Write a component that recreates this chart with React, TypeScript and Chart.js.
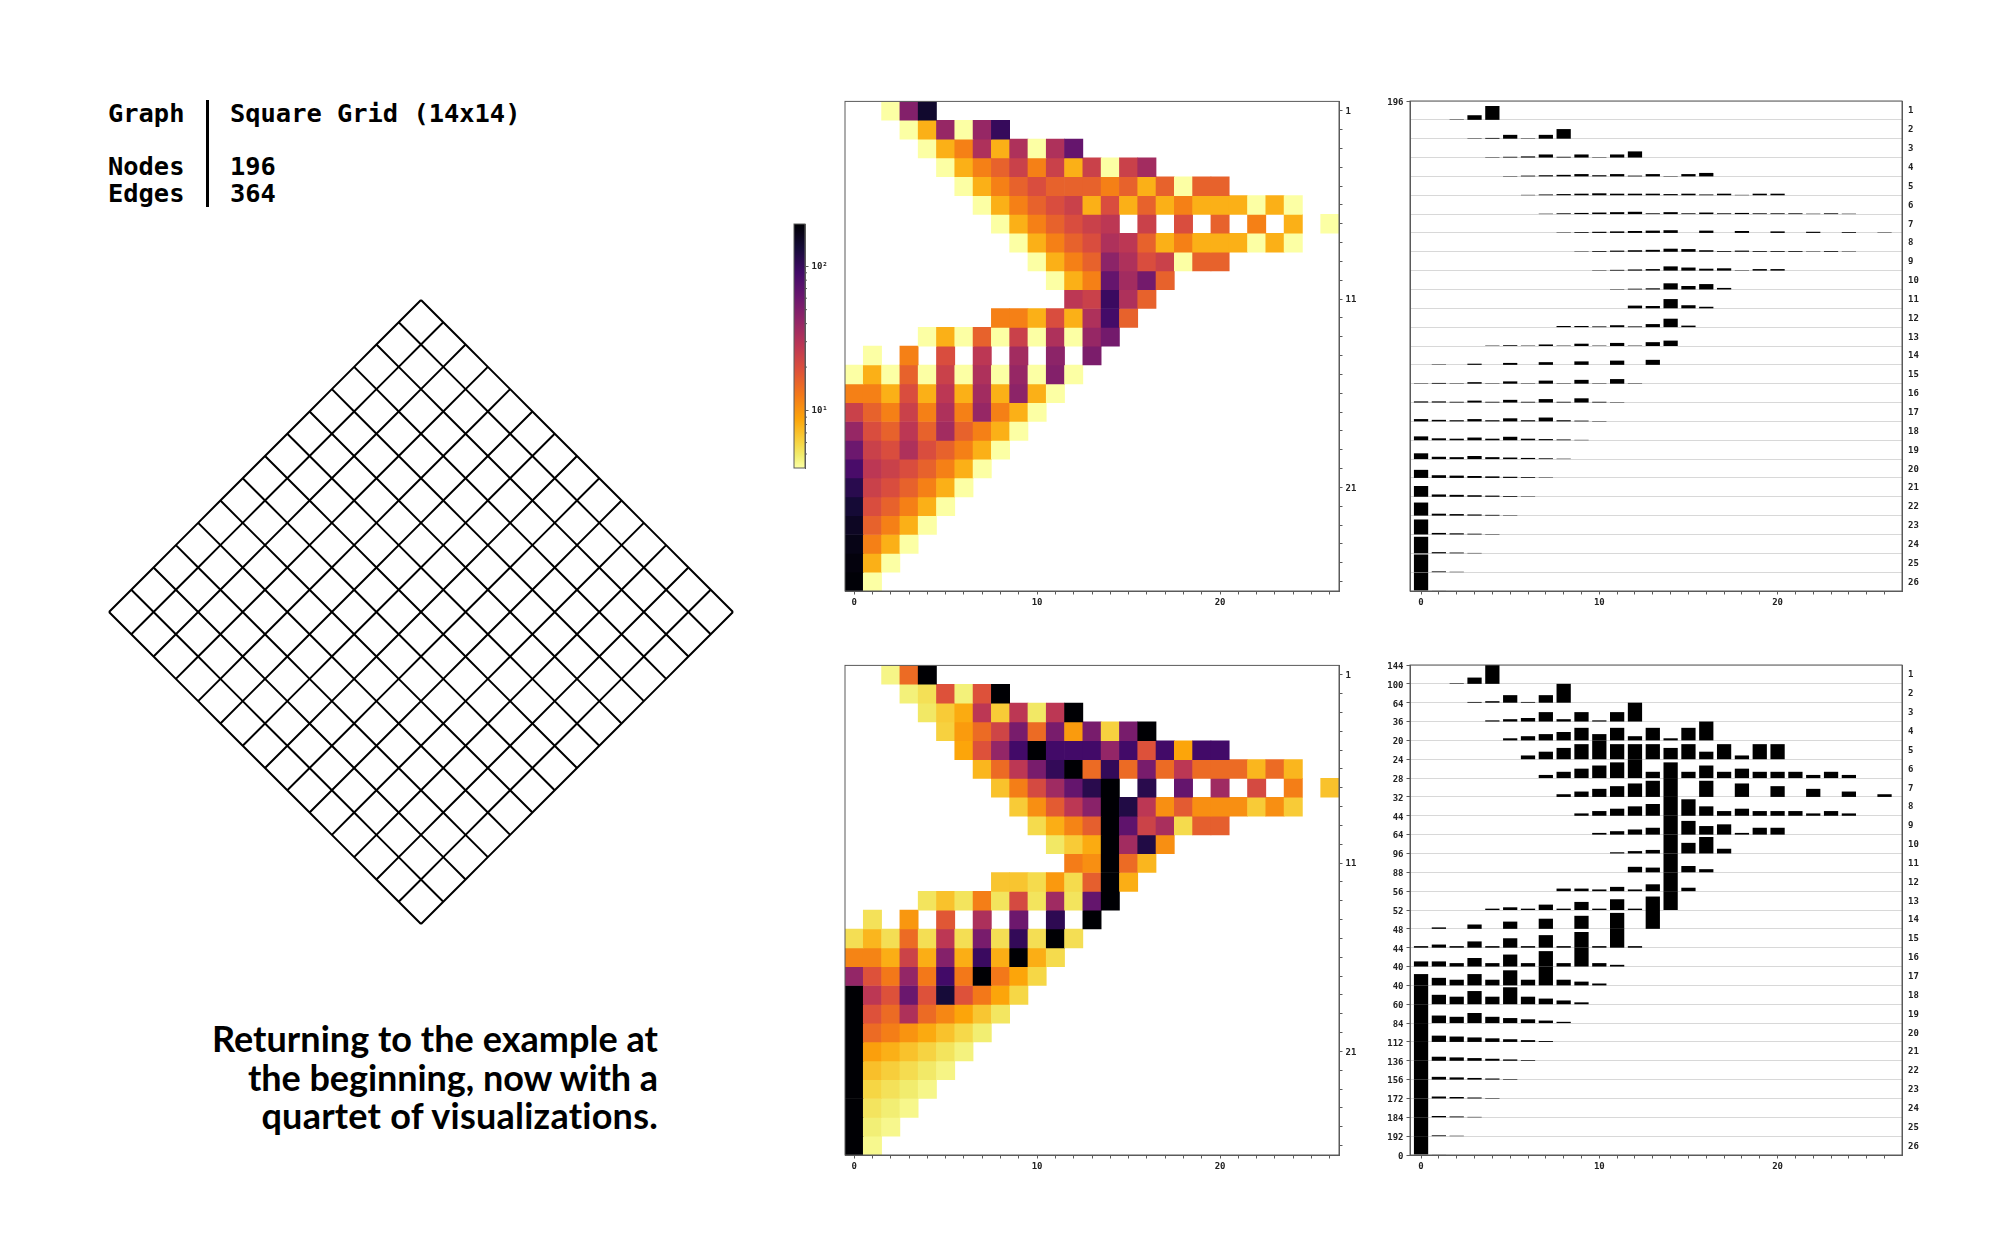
import React, { useEffect, useRef } from "react";
import { Chart, registerables } from "chart.js";

Chart.register(...registerables);

// ---- data: one list per row of the level matrix (row 1 .. row 26, column 0 upward) ----
const row01 = [0, 0, 4, 48, 144];
const row02 = [0, 0, 0, 4, 8, 40, 4, 40, 100];
const row03 = [0, 0, 0, 0, 4, 8, 12, 32, 8, 32, 4, 32, 64];
const row04 = [0, 0, 0, 0, 0, 4, 8, 12, 16, 24, 12, 24, 8, 24, 4, 24, 36];
const row05 = [0, 0, 0, 0, 0, 0, 4, 8, 12, 16, 20, 16, 16, 16, 12, 16, 8, 16, 4, 16, 16];
const row06 = [0, 0, 0, 0, 0, 0, 0, 4, 8, 12, 16, 20, 24, 8, 20, 8, 16, 8, 12, 8, 8, 8, 4, 8, 4];
const row07 = [0, 0, 0, 0, 0, 0, 0, 0, 4, 8, 12, 16, 20, 24, 28, 0, 24, 0, 20, 0, 16, 0, 12, 0, 8, 0, 4];
const row08 = [0, 0, 0, 0, 0, 0, 0, 0, 0, 4, 8, 12, 16, 20, 32, 28, 16, 8, 12, 8, 8, 8, 4, 8, 4];
const row09 = [0, 0, 0, 0, 0, 0, 0, 0, 0, 0, 4, 8, 12, 16, 44, 32, 20, 24, 4, 16, 16];
const row10 = [0, 0, 0, 0, 0, 0, 0, 0, 0, 0, 0, 4, 8, 12, 64, 36, 56, 16];
const row11 = [0, 0, 0, 0, 0, 0, 0, 0, 0, 0, 0, 0, 28, 24, 96, 32, 16];
const row12 = [0, 0, 0, 0, 0, 0, 0, 0, 12, 12, 8, 20, 8, 32, 88, 16];
const row13 = [0, 0, 0, 0, 4, 8, 4, 16, 4, 24, 4, 32, 4, 40, 56];
const row14 = [0, 4, 0, 12, 0, 20, 0, 28, 0, 36, 0, 44, 0, 52];
const row15 = [4, 8, 4, 16, 4, 24, 4, 32, 4, 40, 4, 48, 4];
const row16 = [12, 12, 8, 20, 8, 28, 8, 36, 8, 44, 8, 4];
const row17 = [24, 16, 12, 24, 12, 32, 12, 40, 12, 8, 4];
const row18 = [40, 20, 16, 28, 16, 36, 16, 12, 8, 4];
const row19 = [60, 24, 20, 32, 20, 16, 12, 8, 4];
const row20 = [84, 28, 24, 20, 16, 12, 8, 4];
const row21 = [112, 24, 20, 16, 12, 8, 4];
const row22 = [136, 20, 16, 12, 8, 4];
const row23 = [156, 16, 12, 8, 4];
const row24 = [172, 12, 8, 4];
const row25 = [184, 8, 4];
const row26 = [192, 4];
const levelRows = [
  row01, row02, row03, row04, row05, row06, row07, row08, row09, row10, row11, row12, row13,
  row14, row15, row16, row17, row18, row19, row20, row21, row22, row23, row24, row25, row26,
];

// tick labels
const rowMaxLabels = [144, 100, 64, 36, 20, 24, 28, 32, 44, 64, 96, 88, 56, 52, 48, 44, 40, 40, 60, 84, 112, 136, 156, 172, 184, 192];
const rowNumbers = levelRows.map((_, r) => r + 1);
const columnNumbers = Array.from({ length: 27 }, (_, c) => c);
const heatRowLabels = [1, 11, 21];
const columnLabels = [0, 10, 20];
const colorMin = 4;
const colorMax = 196;
const colorbarMajor = [10, 100];
const colorbarLabels = ["10\u00B9", "10\u00B2"];
const colorbarMinor = [5, 6, 7, 8, 9, 20, 30, 40, 50, 60, 70, 80, 90];
const gridNodes = Array.from({ length: 15 }, (_, i) => i);

const infernoStops = [0, 0.1, 0.2, 0.3, 0.4, 0.5, 0.6, 0.7, 0.8, 0.9, 0.95, 1];
const inferno = ["#000004", "#160b39", "#420a68", "#6a176e", "#932667", "#bc3754", "#dd513a", "#f37819", "#fca50a", "#f6d746", "#f1ed6f", "#fcffa4"];
const FRAME = "#5a5a5a";
const TICK_FONT = { family: "'DejaVu Sans Mono'", size: 9, weight: "bold" as const };
const TICK_COLOR = "#222";

function hex(c: string) {
  return [1, 3, 5].map((i) => parseInt(c.slice(i, i + 2), 16));
}
function infernoAt(t: number) {
  const u = Math.min(1, Math.max(0, t));
  let i = 0;
  while (i < infernoStops.length - 2 && u > infernoStops[i + 1]) i++;
  const a = hex(inferno[i]);
  const b = hex(inferno[i + 1]);
  const f = (u - infernoStops[i]) / (infernoStops[i + 1] - infernoStops[i]);
  return `rgb(${a.map((v, k) => Math.round(v + (b[k] - v) * f)).join(",")})`;
}
const logColor = (v: number) => infernoAt(1 - Math.log(v / colorMin) / Math.log(colorMax / colorMin));
const linearColor = (v: number, rowMax: number) => infernoAt(1 - v / rowMax);

const framePlugin = {
  id: "frame",
  afterDraw(chart: any) {
    const { ctx, chartArea: a } = chart;
    ctx.save();
    ctx.strokeStyle = FRAME;
    ctx.lineWidth = 1;
    ctx.strokeRect(a.left, a.top, a.right - a.left, a.bottom - a.top);
    ctx.restore();
  },
};

function columnAxis(min: number, max: number) {
  return {
    type: "linear",
    min,
    max,
    offset: false,
    afterBuildTicks: (axis: any) => {
      axis.ticks = columnNumbers.map((value) => ({ value }));
    },
    afterFit: (axis: any) => {
      axis.height = 20;
    },
    grid: { offset: false, drawOnChartArea: false, tickLength: 3.5, tickColor: FRAME },
    border: { color: FRAME },
    ticks: {
      autoSkip: false,
      maxRotation: 0,
      minRotation: 0,
      padding: 3,
      font: TICK_FONT,
      color: TICK_COLOR,
      callback: (v: number) => (columnLabels.includes(v) ? String(v) : ""),
    },
  };
}

function heatConfig(colorOf: (v: number, r: number) => string) {
  return {
    type: "bar",
    data: {
      datasets: levelRows.map((row, r) => {
        const cells = row.map((v, c) => ({ v, c })).filter((d) => d.v > 0);
        return {
          data: cells.map((d) => ({ x: d.c, y: [r - 0.5, r + 0.5] })),
          backgroundColor: cells.map((d) => colorOf(d.v, r)),
        };
      }),
    },
    options: {
      responsive: false,
      animation: false,
      devicePixelRatio: 1,
      layout: { padding: { left: 8, top: 8, right: 0, bottom: 0 } },
      plugins: { legend: { display: false }, tooltip: { enabled: false } },
      datasets: { bar: { grouped: false, barPercentage: 1, categoryPercentage: 1, borderWidth: 0 } },
      scales: {
        x: columnAxis(-0.5, 26.5),
        y: {
          type: "linear",
          position: "right",
          reverse: true,
          min: -0.5,
          max: 25.5,
          afterBuildTicks: (axis: any) => {
            axis.ticks = rowNumbers.map((n) => ({ value: n - 1 }));
          },
          afterFit: (axis: any) => {
            axis.width = 30;
          },
          grid: { drawOnChartArea: false, tickLength: 3.5, tickColor: FRAME },
          border: { color: FRAME },
          ticks: {
            autoSkip: false,
            padding: 3,
            labelOffset: 1,
            font: TICK_FONT,
            color: TICK_COLOR,
            callback: (v: number) => (heatRowLabels.includes(v + 1) ? String(v + 1) : ""),
          },
        },
      },
    },
    plugins: [framePlugin],
  };
}

function barsConfig(normOf: (r: number) => number, labelAt: (v: number) => string) {
  return {
    type: "bar",
    data: {
      datasets: levelRows.map((row, r) => {
        const base = levelRows.length - 1 - r;
        const cells = row.map((v, c) => ({ v, c })).filter((d) => d.v > 0);
        return {
          data: cells.map((d) => ({ x: d.c, y: [base, base + d.v / normOf(r)] })),
          backgroundColor: "#000",
          xAxisID: "x",
          yAxisID: "y",
        };
      }),
    },
    options: {
      responsive: false,
      animation: false,
      devicePixelRatio: 1,
      layout: { padding: { left: 0, top: 14, right: 0, bottom: 0 } },
      plugins: { legend: { display: false }, tooltip: { enabled: false } },
      datasets: { bar: { grouped: false, barPercentage: 0.8, categoryPercentage: 1, borderWidth: 0 } },
      scales: {
        x: columnAxis(-0.62, 26.98),
        y: {
          type: "linear",
          position: "left",
          min: 0,
          max: levelRows.length,
          afterBuildTicks: (axis: any) => {
            axis.ticks = [0, ...rowNumbers].map((value) => ({ value }));
          },
          afterFit: (axis: any) => {
            axis.width = 30;
          },
          grid: {
            color: "#d8d8d8",
            lineWidth: 1,
            tickLength: 3.5,
            tickColor: (ctx: any) => (labelAt(ctx.tick.value) !== "" ? FRAME : "rgba(0,0,0,0)"),
          },
          border: { color: FRAME },
          ticks: {
            autoSkip: false,
            padding: 3,
            labelOffset: 1.5,
            font: TICK_FONT,
            color: TICK_COLOR,
            callback: (v: number) => labelAt(v),
          },
        },
        yr: {
          type: "linear",
          position: "right",
          reverse: true,
          min: -0.5,
          max: 25.5,
          afterBuildTicks: (axis: any) => {
            axis.ticks = rowNumbers.map((n) => ({ value: n - 1 }));
          },
          afterFit: (axis: any) => {
            axis.width = 26;
          },
          grid: { drawOnChartArea: false, drawTicks: false },
          border: { color: FRAME },
          ticks: {
            autoSkip: false,
            padding: 6,
            labelOffset: 0.7,
            font: TICK_FONT,
            color: TICK_COLOR,
            callback: (v: number) => String(v + 1),
          },
        },
      },
    },
    plugins: [framePlugin],
  };
}

function colorbarConfig() {
  return {
    type: "bar",
    data: {
      labels: [""],
      datasets: [
        {
          data: [[colorMin, colorMax]],
          backgroundColor: (ctx: any) => {
            const a = ctx.chart.chartArea;
            if (!a) return "#000";
            const g = ctx.chart.ctx.createLinearGradient(0, a.bottom, 0, a.top);
            inferno.forEach((c, i) => g.addColorStop(1 - infernoStops[i], c));
            return g;
          },
          borderWidth: 0,
          barPercentage: 1,
          categoryPercentage: 1,
        },
      ],
    },
    options: {
      responsive: false,
      animation: false,
      devicePixelRatio: 1,
      layout: { padding: { left: 6, top: 12, right: 0, bottom: 12 } },
      plugins: { legend: { display: false }, tooltip: { enabled: false } },
      scales: {
        x: { display: false },
        y: {
          type: "logarithmic",
          position: "right",
          min: colorMin,
          max: colorMax,
          afterBuildTicks: (axis: any) => {
            axis.ticks = colorbarMajor.map((value) => ({ value }));
          },
          afterFit: (axis: any) => {
            axis.width = 34;
          },
          grid: { drawOnChartArea: false, tickLength: 3.5, tickColor: FRAME },
          border: { color: FRAME },
          ticks: {
            autoSkip: false,
            padding: 3,
            font: TICK_FONT,
            color: TICK_COLOR,
            callback: (v: number) => colorbarLabels[colorbarMajor.indexOf(v)] ?? "",
          },
        },
      },
    },
    plugins: [
      framePlugin,
      {
        id: "minorTicks",
        afterDraw(chart: any) {
          const { ctx, chartArea: a, scales } = chart;
          ctx.save();
          ctx.strokeStyle = FRAME;
          ctx.lineWidth = 1;
          colorbarMinor.forEach((v) => {
            const y = scales.y.getPixelForValue(v);
            ctx.beginPath();
            ctx.moveTo(a.right, y);
            ctx.lineTo(a.right + 2, y);
            ctx.stroke();
          });
          ctx.restore();
        },
      },
    ],
  };
}

function diamondConfig() {
  const last = gridNodes.length - 1;
  const centre = last / 2;
  const lines: { x: number; y: number }[][] = [];
  gridNodes.forEach((i) => {
    lines.push(gridNodes.map((j) => ({ x: i - j, y: i + j - 2 * centre })));
    lines.push(gridNodes.map((j) => ({ x: j - i, y: i + j - 2 * centre })));
  });
  return {
    type: "scatter",
    data: {
      datasets: lines.map((data) => ({
        data,
        showLine: true,
        pointRadius: 0,
        borderColor: "#000",
        borderWidth: 2,
        clip: false,
      })),
    },
    options: {
      responsive: false,
      animation: false,
      devicePixelRatio: 1,
      layout: { padding: 10 },
      plugins: { legend: { display: false }, tooltip: { enabled: false } },
      scales: {
        x: { display: false, type: "linear", min: -last, max: last },
        y: { display: false, type: "linear", min: -last, max: last },
      },
    },
  };
}

function ChartBox({ config, left, top, width, height }: any) {
  const ref = useRef<HTMLCanvasElement>(null);
  useEffect(() => {
    const chart = new Chart(ref.current as HTMLCanvasElement, config());
    return () => chart.destroy();
  }, []);
  return (
    <canvas
      ref={ref}
      width={width}
      height={height}
      style={{ position: "absolute", left, top, width, height, display: "block" }}
    />
  );
}

const mono: React.CSSProperties = {
  position: "absolute",
  fontFamily: "'DejaVu Sans Mono'",
  fontWeight: 700,
  fontSize: 25.4,
  lineHeight: "30px",
  whiteSpace: "pre",
  color: "#000",
};

function Label({ x, base, children }: any) {
  return <div style={{ ...mono, left: x, top: base - 24.5 }}>{children}</div>;
}

const captionLines = ["Returning to the example at", "the beginning, now with a", "quartet of visualizations."];
const captionSpacing = [0.04, -0.05, 0.24];

export default function App() {
  return (
    <div style={{ position: "absolute", left: 0, top: 0, width: 2000, height: 1250, background: "#fff", overflow: "hidden" }}>
      <Label x={108} base={122}>Graph</Label>
      <Label x={230} base={122}>Square Grid (14x14)</Label>
      <Label x={108} base={175}>Nodes</Label>
      <Label x={230} base={175}>196</Label>
      <Label x={108} base={202}>Edges</Label>
      <Label x={230} base={202}>364</Label>
      <div style={{ position: "absolute", left: 206, top: 100, width: 2.5, height: 107, background: "#000" }} />

      <ChartBox config={diamondConfig} left={99} top={290} width={644} height={644} />

      {captionLines.map((t, i) => (
        <div
          key={t}
          style={{
            position: "absolute",
            right: 2000 - 658,
            top: 1050 + i * 38.5 - 33,
            fontFamily: "Lato",
            fontWeight: 700,
            fontSize: 36,
            lineHeight: "42px",
            whiteSpace: "pre",
            color: "#000",
            fontVariantLigatures: "none",
            letterSpacing: captionSpacing[i],
          }}
        >
          {t}
        </div>
      ))}

      <ChartBox config={colorbarConfig} left={788} top={212} width={51} height={268} />

      <ChartBox
        config={() => heatConfig((v) => logColor(v))}
        left={837}
        top={93}
        width={532}
        height={518}
      />
      <ChartBox
        config={() => barsConfig(() => colorMax, (v) => (v === levelRows.length ? String(colorMax) : ""))}
        left={1380}
        top={87}
        width={548}
        height={524}
      />
      <ChartBox
        config={() => heatConfig((v, r) => linearColor(v, rowMaxLabels[r]))}
        left={837}
        top={657}
        width={532}
        height={518}
      />
      <ChartBox
        config={() =>
          barsConfig(
            (r) => rowMaxLabels[r],
            (v) => (v === 0 ? "0" : String(rowMaxLabels[levelRows.length - v]))
          )
        }
        left={1380}
        top={651}
        width={548}
        height={524}
      />
    </div>
  );
}
